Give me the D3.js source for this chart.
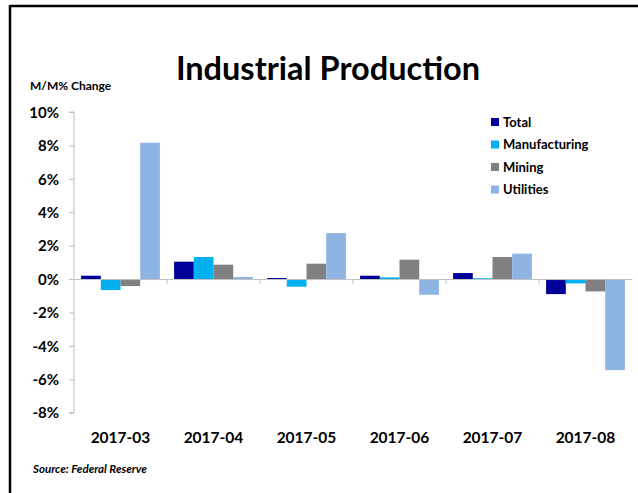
<!DOCTYPE html>
<html><head><meta charset="utf-8">
<script src="https://cdn.jsdelivr.net/npm/d3@7"></script>
<style>body{margin:0;background:#fff}svg{display:block}</style>
</head><body><svg id="c" width="638" height="493"></svg>
<script>
const categories = ["2017-03","2017-04","2017-05","2017-06","2017-07","2017-08"];
const seriesNames = ["Total","Manufacturing","Mining","Utilities"];
const total = [0.2, 1.04, 0.06, 0.2, 0.36, -0.9];
const manufacturing = [-0.66, 1.32, -0.46, 0.1, 0.05, -0.26];
const mining = [-0.42, 0.86, 0.92, 1.16, 1.32, -0.74];
const utilities = [8.16, 0.12, 2.75, -0.94, 1.52, -5.45];
const yTicks = [-8,-6,-4,-2,0,2,4,6,8,10];
const colors = ["#000099","#00b0f0","#808080","#8db4e2"];
const seriesValues = [total, manufacturing, mining, utilities];

const svg = d3.select("#c");
const font = "Lato, 'Open Sans', sans-serif";
// frame
svg.append("line").attr("x1",10).attr("x2",638).attr("y1",6).attr("y2",6).attr("stroke","#000").attr("stroke-width",2.5);
svg.append("line").attr("x1",10).attr("x2",10).attr("y1",5).attr("y2",493).attr("stroke","#000").attr("stroke-width",2.5);

const x0 = d3.scaleBand().domain(categories).range([74,632]);
const x1 = d3.scaleBand().domain(seriesNames).range([0,x0.bandwidth()]).paddingOuter(0.36).paddingInner(0);
const y = d3.scaleLinear().domain([-8,10]).range([412.7,112]);

// y axis
const yAxis = svg.append("g").attr("transform","translate(74,0)")
  .call(d3.axisLeft(y).tickValues(yTicks).tickSize(5).tickFormat(d=>d+"%"));
yAxis.select(".domain").attr("stroke","#bfbfbf").attr("d","M-5,"+y(10)+"H0V"+y(-8)+"H-5");
yAxis.selectAll(".tick line").attr("stroke","#bfbfbf");
yAxis.selectAll(".tick text").attr("x",-15).attr("dy","0.35em")
  .style("font-family",font).style("font-weight","bold").style("font-size","15px").attr("fill","#000");

// bars
const groups = svg.append("g").selectAll("g").data(categories).join("g")
  .attr("transform",d=>`translate(${x0(d)},0)`);
groups.selectAll("rect").data((c,i)=>seriesNames.map((s,j)=>({s,v:seriesValues[j][i],j})))
  .join("rect")
  .attr("x",d=>x1(d.s)).attr("width",x1.bandwidth())
  .attr("y",d=>y(Math.max(0,d.v))).attr("height",d=>Math.abs(y(d.v)-y(0)))
  .attr("fill",d=>colors[d.j]);

// x axis at zero
const xAxis = svg.append("g").attr("transform",`translate(0,${y(0)})`)
  .call(d3.axisBottom(x0).tickSize(0).tickFormat(""));
xAxis.select(".domain").attr("stroke","#bfbfbf");
xAxis.selectAll(".tick").remove();
svg.append("g").selectAll("line").data(categories.slice(1)).join("line")
  .attr("x1",d=>x0(d)).attr("x2",d=>x0(d)).attr("y1",y(0)).attr("y2",y(0)+5).attr("stroke","#bfbfbf");

// category labels
svg.append("g").selectAll("text").data(categories).join("text")
  .attr("x",d=>x0(d)+x0.bandwidth()/2).attr("y",443).attr("text-anchor","middle")
  .style("font-family",font).style("font-weight","bold").style("font-size","15.5px").text(d=>d);

// title
svg.append("text").attr("x",328).attr("y",80).attr("text-anchor","middle")
  .style("font-family",font).style("font-size","32.5px").style("font-weight","bold").text("Industrial Production");
svg.append("text").attr("x",30).attr("y",90)
  .style("font-family",font).style("font-weight","bold").style("font-size","12px").text("M/M% Change");
svg.append("text").attr("x",33).attr("y",473)
  .style("font-family",font).style("font-weight","bold").style("font-style","italic").style("font-size","11.5px").text("Source: Federal Reserve");

// legend
const lg = svg.append("g").selectAll("g").data(seriesNames).join("g")
  .attr("transform",(d,i)=>`translate(491,${122+i*22.5})`);
lg.append("rect").attr("x",0).attr("y",-4).attr("width",8).attr("height",8).attr("fill",(d,i)=>colors[i]);
lg.append("text").attr("x",12).attr("y",0).attr("dy","0.35em")
  .style("font-family",font).style("font-weight","bold").style("font-size","13px").text(d=>d);
</script></body></html>
